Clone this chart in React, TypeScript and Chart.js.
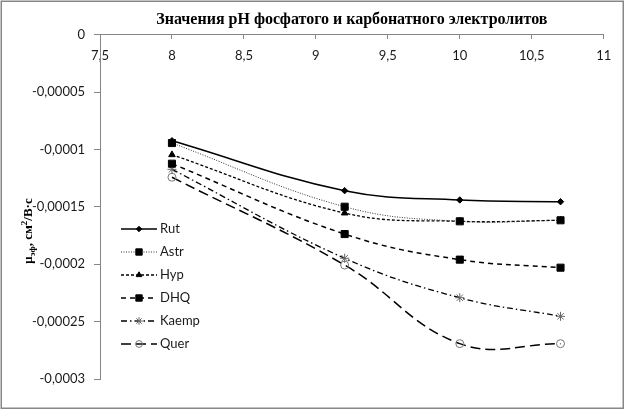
import React, { useEffect, useRef } from 'react';
import { Chart, registerables } from 'chart.js';
import { drawPoint } from 'chart.js/helpers';

Chart.register(...registerables);

const chartTitle = 'Значения pH фосфатого и карбонатного электролитов';
const yAxisTitleParts = [
  { text: 'μ', kind: 'normal' },
  { text: 'эф', kind: 'sub' },
  { text: ', см', kind: 'normal' },
  { text: '2', kind: 'sup' },
  { text: '/В·с', kind: 'normal' },
];

const phValues = [8, 9.2, 10, 10.7];
const seriesNames = ['Rut', 'Astr', 'Hyp', 'DHQ', 'Kaemp', 'Quer'];
const rut = [-0.0000924, -0.0001359, -0.000144, -0.0001455];
const astr = [-0.0000944, -0.0001499, -0.0001626, -0.0001617];
const hyp = [-0.0001046, -0.0001554, -0.0001626, -0.0001617];
const dhq = [-0.0001124, -0.0001737, -0.000196, -0.000203];
const kaemp = [-0.0001173, -0.0001948, -0.0002292, -0.0002454];
const quer = [-0.0001242, -0.0002007, -0.0002692, -0.0002692];
const seriesValues = [rut, astr, hyp, dhq, kaemp, quer];

const xTickValues = [7.5, 8, 8.5, 9, 9.5, 10, 10.5, 11];
const xTickLabels = ['7,5', '8', '8,5', '9', '9,5', '10', '10,5', '11'];
const yTickValues = [0, -0.00005, -0.0001, -0.00015, -0.0002, -0.00025, -0.0003];
const yTickLabels = ['0', '-0,00005', '-0,0001', '-0,00015', '-0,0002', '-0,00025', '-0,0003'];

const seriesStyles = [
  { dash: [], width: 1.5, line: '#000', pointStyle: 'rectRot', radius: 3.2, fill: '#000', stroke: '#000', pbw: 1 },
  { dash: [1, 1.5], width: 1, line: '#333', pointStyle: 'rect', radius: 5, fill: '#000', stroke: '#000', pbw: 1 },
  { dash: [3, 2], width: 1.3, line: '#000', pointStyle: 'triangle', radius: 3.8, fill: '#000', stroke: '#000', pbw: 1 },
  { dash: [5, 4], width: 1.5, line: '#000', pointStyle: 'rect', radius: 5, fill: '#000', stroke: '#000', pbw: 1 },
  { dash: [6, 3, 1.5, 3], width: 1.3, line: '#000', pointStyle: 'star', radius: 4.5, fill: 'rgba(0,0,0,0)', stroke: '#666', pbw: 1 },
  { dash: [10, 5], width: 1.5, line: '#000', pointStyle: 'circle', radius: 4, fill: 'rgba(0,0,0,0)', stroke: '#777', pbw: 1 },
];

const tickFont = { family: 'Lato', size: 13 };

const borderPlugin = {
  id: 'outerBorder',
  afterDraw(chart: any) {
    const { ctx, width, height } = chart;
    ctx.save();
    ctx.strokeStyle = '#878787';
    ctx.lineWidth = 1.5;
    ctx.strokeRect(1.25, 1.25, width - 3, height - 3);
    ctx.restore();
  },
};

const yTitlePlugin = {
  id: 'yTitle',
  afterDraw(chart: any) {
    const { ctx } = chart;
    const big = 'bold 13px "Liberation Serif"';
    const small = 'bold 9px "Liberation Serif"';
    ctx.save();
    let total = 0;
    const widths = yAxisTitleParts.map((p) => {
      ctx.font = p.kind === 'normal' ? big : small;
      const w = ctx.measureText(p.text).width;
      total += w;
      return w;
    });
    const cx = 27;
    const cy = 231;
    ctx.translate(cx, cy);
    ctx.rotate(-Math.PI / 2);
    ctx.fillStyle = '#000';
    ctx.textBaseline = 'alphabetic';
    ctx.textAlign = 'left';
    let x = -total / 2;
    const base = 4.5;
    yAxisTitleParts.forEach((p, i) => {
      ctx.font = p.kind === 'normal' ? big : small;
      const dy = p.kind === 'sub' ? 3 : p.kind === 'sup' ? -5 : 0;
      ctx.fillText(p.text, x, base + dy);
      x += widths[i];
    });
    ctx.restore();
  },
};

const legendPlugin = {
  id: 'customLegend',
  afterDraw(chart: any) {
    const { ctx, chartArea } = chart;
    const x0 = chartArea.left + 21;
    const lineLen = 36;
    const y0 = 229;
    const step = 23;
    ctx.save();
    seriesNames.forEach((name, i) => {
      const s = seriesStyles[i];
      const y = y0 + i * step;
      ctx.strokeStyle = s.line;
      ctx.lineWidth = s.width;
      ctx.setLineDash(s.dash);
      ctx.beginPath();
      ctx.moveTo(x0, y);
      ctx.lineTo(x0 + lineLen, y);
      ctx.stroke();
      ctx.setLineDash([]);
      ctx.fillStyle = s.fill;
      ctx.strokeStyle = s.stroke;
      ctx.lineWidth = s.pbw;
      const r = s.pointStyle === 'rect' ? s.radius * 0.9 : s.radius * 0.85;
      drawPoint(ctx, { pointStyle: s.pointStyle, radius: r, rotation: 0, borderWidth: s.pbw } as any, x0 + lineLen / 2, y);
      ctx.fillStyle = '#1a1a1a';
      ctx.font = '13px Lato';
      ctx.textAlign = 'left';
      ctx.textBaseline = 'middle';
      ctx.fillText(name, x0 + lineLen + 3, y);
    });
    ctx.restore();
  },
};

export default function App() {
  const canvasRef = useRef<HTMLCanvasElement | null>(null);

  useEffect(() => {
    if (!canvasRef.current) return;
    const datasets = seriesNames.map((name, i) => {
      const s = seriesStyles[i];
      return {
        label: name,
        data: phValues.map((x, j) => ({ x, y: seriesValues[i][j] })),
        borderColor: s.line,
        borderWidth: s.width,
        borderDash: s.dash,
        backgroundColor: s.fill,
        pointStyle: s.pointStyle,
        pointRadius: s.radius,
        pointBackgroundColor: s.fill,
        pointBorderColor: s.stroke,
        pointBorderWidth: s.pbw,
        tension: 0.4,
        fill: false,
      };
    });

    const chart = new Chart(canvasRef.current, {
      type: 'line',
      data: { datasets: datasets as any },
      options: {
        animation: false,
        responsive: false,
        layout: { padding: { left: 0, right: 21.3, top: 0, bottom: 31 } },
        plugins: {
          legend: { display: false },
          tooltip: { enabled: false },
          title: {
            display: true,
            text: chartTitle,
            fullSize: false,
            color: '#000',
            font: { family: 'Liberation Serif', size: 16, weight: 'bold' },
            padding: { top: 10, bottom: 5.5 },
          },
        },
        scales: {
          x: {
            type: 'linear',
            position: { y: 0 } as any,
            min: 7.5,
            max: 11,
            afterBuildTicks: (scale: any) => {
              scale.ticks = xTickValues.map((v) => ({ value: v }));
            },
            ticks: {
              autoSkip: false,
              maxRotation: 0,
              padding: 9.8,
              color: '#1a1a1a',
              font: tickFont,
              callback: (value: any) => {
                const i = xTickValues.findIndex((t) => Math.abs(t - Number(value)) < 1e-9);
                return i >= 0 ? xTickLabels[i] : '';
              },
            },
            grid: { drawOnChartArea: false, drawTicks: true, tickLength: 4, color: '#868686' },
            border: { display: true, color: '#868686', width: 1 },
          },
          y: {
            type: 'linear',
            position: 'left',
            min: -0.0003,
            max: 0,
            afterBuildTicks: (scale: any) => {
              scale.ticks = yTickValues.slice().reverse().map((v) => ({ value: v }));
            },
            afterFit: (scale: any) => {
              scale.width = 100;
            },
            ticks: {
              padding: 9,
              color: '#1a1a1a',
              font: tickFont,
              callback: (value: any) => {
                const i = yTickValues.findIndex((t) => Math.abs(t - Number(value)) < 1e-12);
                return i >= 0 ? yTickLabels[i] : '';
              },
            },
            grid: { drawOnChartArea: false, drawTicks: true, tickLength: 6, color: '#868686' },
            border: { display: true, color: '#868686', width: 1 },
          },
        },
      },
      plugins: [legendPlugin, yTitlePlugin, borderPlugin],
    });
    return () => chart.destroy();
  }, []);

  return (
    <div style={{ position: 'fixed', left: 0, top: 0, width: 625, height: 410, background: '#fff' }}>
      <canvas ref={canvasRef} width={625} height={410} />
    </div>
  );
}
